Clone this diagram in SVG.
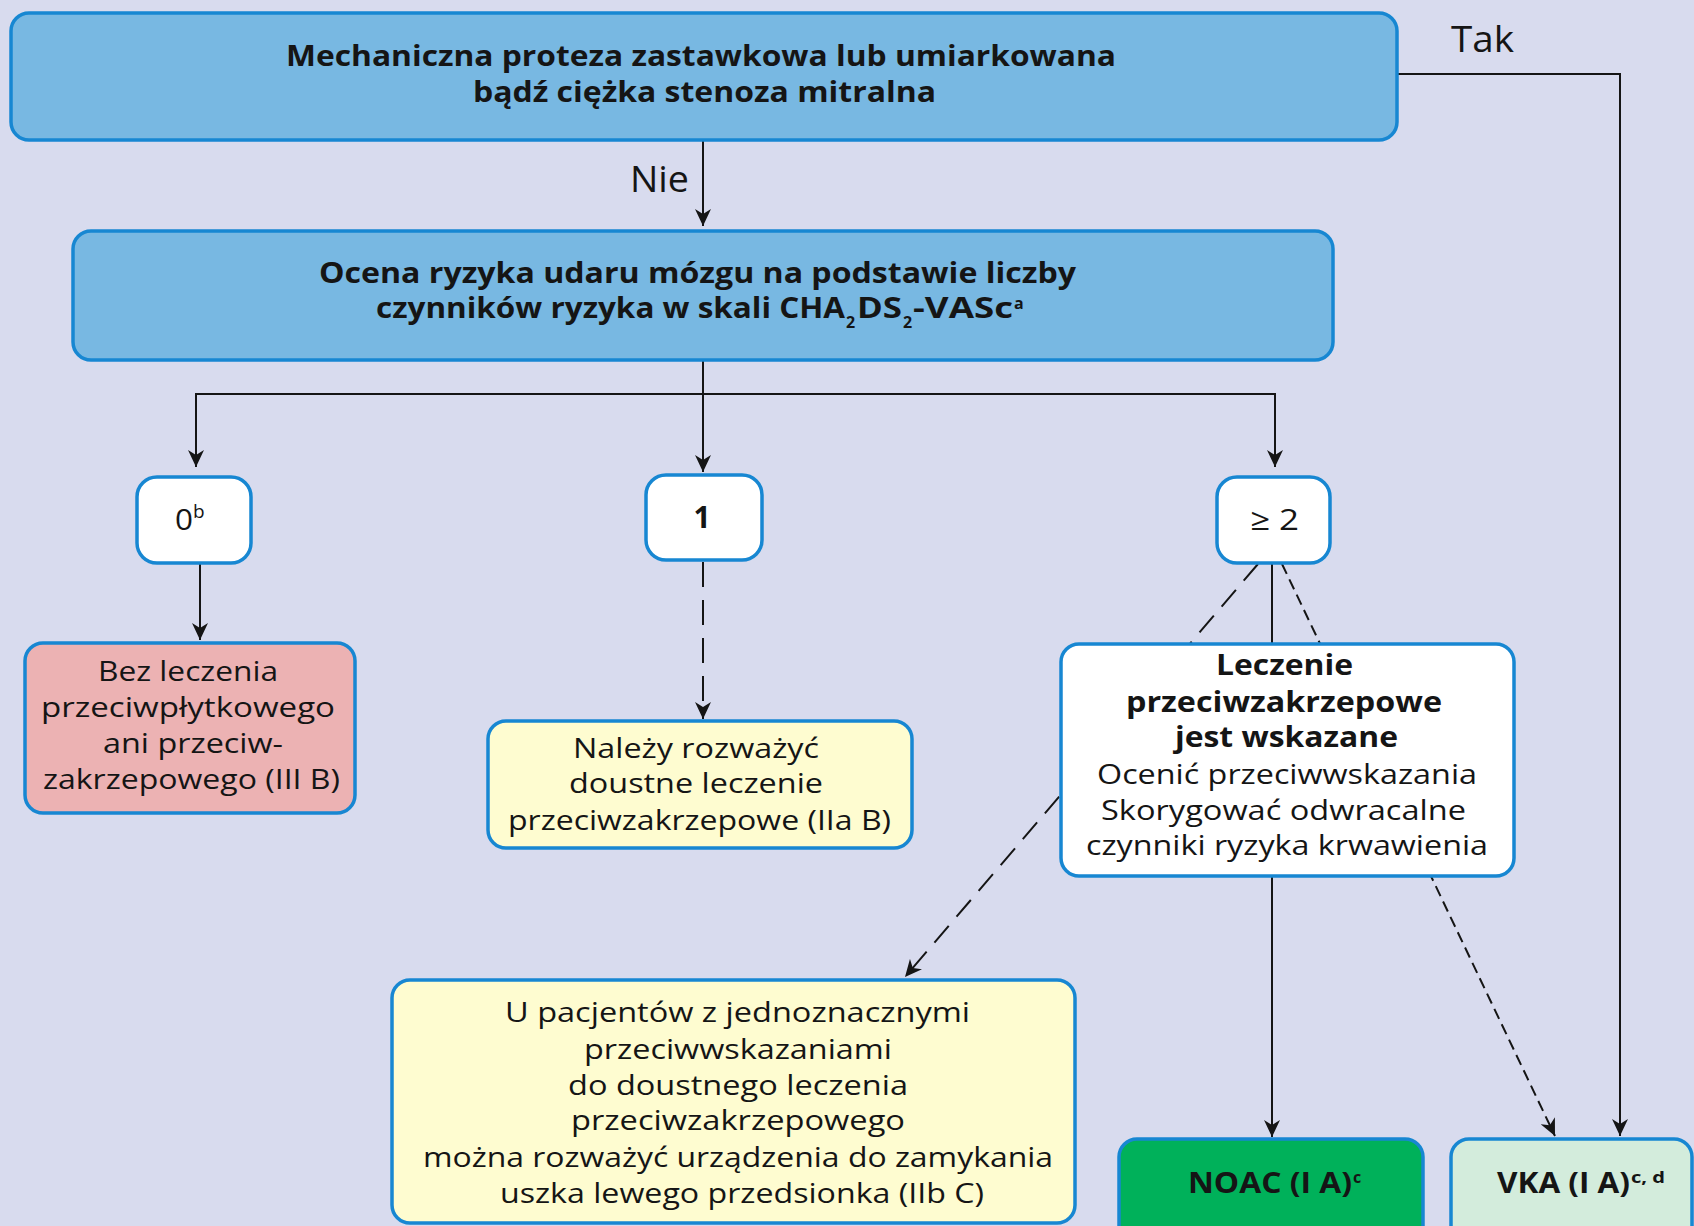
<svg xmlns="http://www.w3.org/2000/svg" width="1694" height="1226" viewBox="0 0 1694 1226">
<style>
.bg{fill:#d8dbee}
.box{stroke:#1787d2;stroke-width:3.5}
.blue{fill:#78b8e2}
.white{fill:#ffffff}
.pink{fill:#ecb2b3}
.yellow{fill:#fefcd0}
.green{fill:#00b15a}
.lgreen{fill:#d3ecdc}
.t{font-family:"Open Sans","Liberation Sans",sans-serif;fill:#151515}
.r{font-size:28px}
.b{font-size:28px;font-weight:bold}
.lbl{font-size:36px}
.num{font-size:30px}
.sm{font-size:16px;font-weight:bold}
.ln{fill:none;stroke:#151515;stroke-width:2}
.d1{stroke-dasharray:25 13}
.d2{stroke-dasharray:22 12}
.d3{stroke-dasharray:11 6}
</style>
<defs>
<marker id="ah" viewBox="0 0 17 16" refX="17" refY="8" markerWidth="17" markerHeight="16" markerUnits="userSpaceOnUse" orient="auto">
<path d="M0,0 L17,8 L0,16 L5,8 Z" fill="#151515"/>
</marker>
</defs>
<rect class="bg" x="0" y="0" width="1694" height="1226"/>

<g id="connectors">
<path class="ln" d="M703,140 V226" marker-end="url(#ah)"/>
<path class="ln" d="M1397,74 H1620 V1136" marker-end="url(#ah)"/>
<path class="ln" d="M703,360 V472" marker-end="url(#ah)"/>
<path class="ln" d="M703,394 H196 V467" marker-end="url(#ah)"/>
<path class="ln" d="M703,394 H1275 V467" marker-end="url(#ah)"/>
<path class="ln" d="M200,563 V640" marker-end="url(#ah)"/>
<path class="ln d1" d="M703,562 V719" marker-end="url(#ah)"/>
<path class="ln" d="M1272,563 V645"/>
<path class="ln" d="M1272,877 V1137" marker-end="url(#ah)"/>
<path class="ln d2" d="M1258,564 L905,977" marker-end="url(#ah)"/>
<path class="ln d3" d="M1282,564 L1555,1136" marker-end="url(#ah)"/>
</g>

<g id="node-valve">
<rect class="box blue" x="11" y="13" width="1386" height="127" rx="18"/>
<text class="t b" x="286" y="66" textLength="830" lengthAdjust="spacingAndGlyphs">Mechaniczna proteza zastawkowa lub umiarkowana</text>
<text class="t b" x="473" y="102" textLength="463" lengthAdjust="spacingAndGlyphs">bądź ciężka stenoza mitralna</text>
</g>

<g id="label-tak"><text class="t lbl" x="1451" y="52" textLength="63" lengthAdjust="spacingAndGlyphs">Tak</text></g>
<g id="label-nie"><text class="t lbl" x="630" y="192" textLength="59" lengthAdjust="spacingAndGlyphs">Nie</text></g>

<g id="node-risk">
<rect class="box blue" x="73" y="231" width="1260" height="129" rx="18"/>
<text class="t b" x="319" y="283" textLength="757" lengthAdjust="spacingAndGlyphs">Ocena ryzyka udaru mózgu na podstawie liczby</text>
<text class="t b" y="318"><tspan x="376" textLength="469" lengthAdjust="spacingAndGlyphs">czynników ryzyka w skali CHA</tspan><tspan class="sm" x="846" y="328">2</tspan><tspan x="857" y="318" textLength="45" lengthAdjust="spacingAndGlyphs">DS</tspan><tspan class="sm" x="903" y="328">2</tspan><tspan x="913" y="318" textLength="100" lengthAdjust="spacingAndGlyphs">-VASc</tspan><tspan class="sm" x="1014" y="309">a</tspan></text>
</g>

<g id="node-score0">
<rect class="box white" x="137" y="477" width="114" height="86" rx="20"/>
<text class="t num" x="175" y="530" textLength="18" lengthAdjust="spacingAndGlyphs">0</text>
<text class="t" x="193" y="518" font-size="19">b</text>
</g>

<g id="node-score1">
<rect class="box white" x="646" y="475" width="116" height="85" rx="20"/>
<text class="t num" x="702" y="528" text-anchor="middle" font-weight="bold">1</text>
</g>

<g id="node-score2">
<rect class="box white" x="1217" y="477" width="113" height="86" rx="20"/>
<text class="t num" x="1250" y="530" textLength="49" lengthAdjust="spacingAndGlyphs">≥ 2</text>
</g>

<g id="node-none">
<rect class="box pink" x="25" y="643" width="330" height="170" rx="18"/>
<text class="t r" x="98" y="681" textLength="180" lengthAdjust="spacingAndGlyphs">Bez leczenia</text>
<text class="t r" x="41" y="717" textLength="294" lengthAdjust="spacingAndGlyphs">przeciwpłytkowego</text>
<text class="t r" x="103" y="753" textLength="180" lengthAdjust="spacingAndGlyphs">ani przeciw-</text>
<text class="t r" x="43" y="789" textLength="297" lengthAdjust="spacingAndGlyphs">zakrzepowego (III B)</text>
</g>

<g id="node-consider">
<rect class="box yellow" x="488" y="721" width="424" height="127" rx="18"/>
<text class="t r" x="573" y="758" textLength="246" lengthAdjust="spacingAndGlyphs">Należy rozważyć</text>
<text class="t r" x="569" y="793" textLength="254" lengthAdjust="spacingAndGlyphs">doustne leczenie</text>
<text class="t r" x="508" y="830" textLength="383" lengthAdjust="spacingAndGlyphs">przeciwzakrzepowe (IIa B)</text>
</g>

<g id="node-indicated">
<rect class="box white" x="1061" y="644" width="453" height="232" rx="18"/>
<text class="t b" x="1216" y="675" textLength="137" lengthAdjust="spacingAndGlyphs">Leczenie</text>
<text class="t b" x="1126" y="712" textLength="316" lengthAdjust="spacingAndGlyphs">przeciwzakrzepowe</text>
<text class="t b" x="1175" y="747" textLength="223" lengthAdjust="spacingAndGlyphs">jest wskazane</text>
<text class="t r" x="1097" y="784" textLength="380" lengthAdjust="spacingAndGlyphs">Ocenić przeciwwskazania</text>
<text class="t r" x="1101" y="820" textLength="365" lengthAdjust="spacingAndGlyphs">Skorygować odwracalne</text>
<text class="t r" x="1086" y="855" textLength="402" lengthAdjust="spacingAndGlyphs">czynniki ryzyka krwawienia</text>
</g>

<g id="node-laa">
<rect class="box yellow" x="392" y="980" width="683" height="243" rx="18"/>
<text class="t r" x="505" y="1022" textLength="465" lengthAdjust="spacingAndGlyphs">U pacjentów z jednoznacznymi</text>
<text class="t r" x="584" y="1059" textLength="308" lengthAdjust="spacingAndGlyphs">przeciwwskazaniami</text>
<text class="t r" x="568" y="1095" textLength="340" lengthAdjust="spacingAndGlyphs">do doustnego leczenia</text>
<text class="t r" x="571" y="1130" textLength="334" lengthAdjust="spacingAndGlyphs">przeciwzakrzepowego</text>
<text class="t r" x="423" y="1167" textLength="630" lengthAdjust="spacingAndGlyphs">można rozważyć urządzenia do zamykania</text>
<text class="t r" x="500" y="1203" textLength="484" lengthAdjust="spacingAndGlyphs">uszka lewego przedsionka (IIb C)</text>
</g>

<g id="node-noac">
<rect class="box green" x="1119" y="1139" width="304" height="110" rx="18"/>
<text class="t b" x="1188" y="1193" font-size="29" textLength="164" lengthAdjust="spacingAndGlyphs">NOAC (I A)</text>
<text class="t sm" x="1353" y="1183">c</text>
</g>

<g id="node-vka">
<rect class="box lgreen" x="1451" y="1139" width="241" height="110" rx="18"/>
<text class="t b" x="1497" y="1193" font-size="29" textLength="133" lengthAdjust="spacingAndGlyphs">VKA (I A)</text>
<text class="t sm" x="1631" y="1183" textLength="34" lengthAdjust="spacingAndGlyphs">c, d</text>
</g>
</svg>
